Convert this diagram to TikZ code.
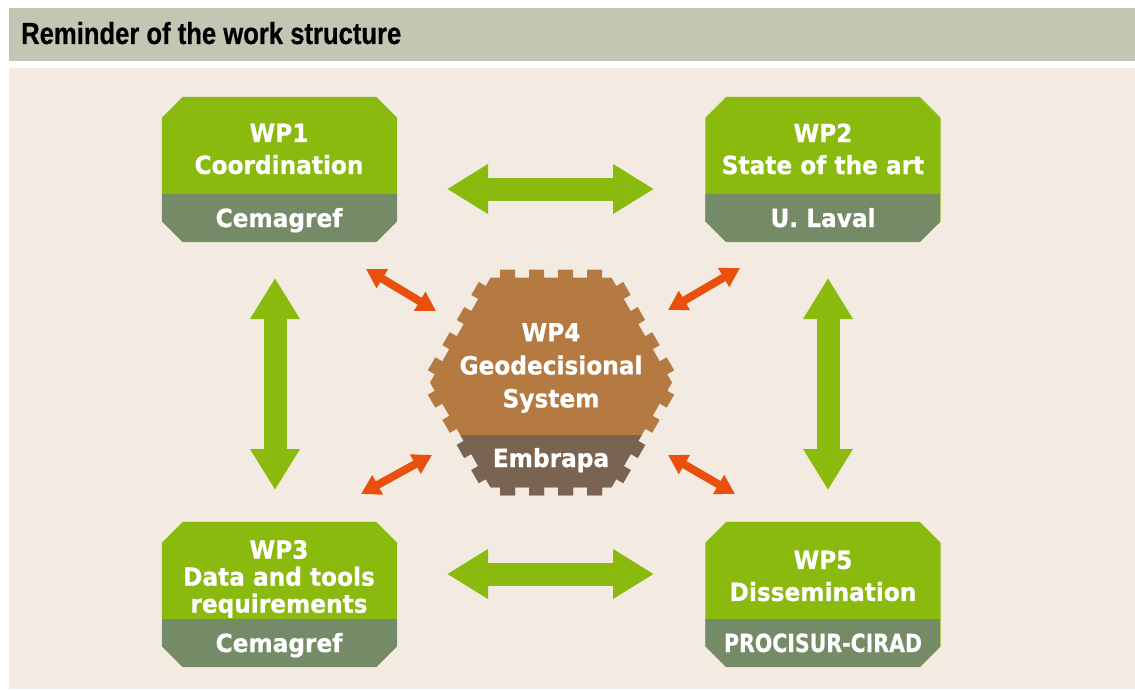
\documentclass[tikz,border=0pt]{standalone}
\usepackage{fontspec}
\usetikzlibrary{arrows.meta,calc}
\newfontfamily\wpfont[FakeStretch=0.93, BoldFeatures={FakeBold=0.6}]{DejaVu Sans}
\newfontfamily\condfont[FakeStretch=0.82, BoldFeatures={FakeBold=0.6}]{DejaVu Sans}
\newfontfamily\titlefont[FakeStretch=0.84, BoldFeatures={FakeBold=0.6}]{Liberation Sans}
\definecolor{panelbg}{HTML}{F3EBE2}
\definecolor{titlebg}{HTML}{C4C6B4}
\definecolor{wpgreen}{HTML}{8BBA0E}
\definecolor{wpband}{HTML}{758A67}
\definecolor{wpbrown}{HTML}{B47A42}
\definecolor{wpdark}{HTML}{7A6350}
\definecolor{wporange}{HTML}{E9500E}
\tikzset{
  boxframe/.style={rectangle, minimum width=235pt, minimum height=145pt, inner sep=0pt, draw=none},
  wptext/.style={text=white, align=center, inner sep=0pt, font=\wpfont\bfseries\fontsize{25}{32}\selectfont},
  wplabel/.style={text=white, inner sep=0pt, anchor=base, font=\wpfont\bfseries\fontsize{25}{30}\selectfont},
  greenarrow/.style={draw=wpgreen, line width=23pt, {Triangle[length=41pt,width=47pt]}-{Triangle[length=41pt,width=47pt]}},
  orangearrow/.style={draw=wporange, line width=8pt, {Triangle[length=19pt,width=21pt]}-{Triangle[length=19pt,width=21pt]}}
}
\newcommand\octpath[1]{($(#1.north west)+(21,0)$) -- ($(#1.north east)+(-21,0)$) -- ($(#1.north east)+(0,21)$) -- ($(#1.south east)+(0,-21)$) -- ($(#1.south east)+(-21,0)$) -- ($(#1.south west)+(21,0)$) -- ($(#1.south west)+(0,-21)$) -- ($(#1.north west)+(0,21)$) -- cycle}
\newcommand\wpbox[3]{%
  \node[boxframe] (#1) at (#2,#3) {};
  \fill[wpgreen] \octpath{#1};
  \begin{scope}
    \clip \octpath{#1};
    \fill[wpband] ($(#1.south west)+(0,-48)$) rectangle (#1.south east);
  \end{scope}
}
\newcommand\hexpath{($(hc)+(0:121)$)
  \foreach \a in {0,60,...,300}{
    \foreach \t in {-43.5,-14.5,14.5,43.5}{
      -- ($(hc)+(\a+30:104.8)+(\a+120:\t-7.5)$)
      -- ($(hc)+(\a+30:112.8)+(\a+120:\t-7.5)$)
      -- ($(hc)+(\a+30:112.8)+(\a+120:\t+7.5)$)
      -- ($(hc)+(\a+30:104.8)+(\a+120:\t+7.5)$)
    }
    -- ($(hc)+(\a+60:121)$)
  } -- cycle}
\begin{document}
\begin{tikzpicture}[x=1pt,y=-1pt]
\useasboundingbox (0,0) rectangle (1135,690);
\fill[white] (0,0) rectangle (1135,690);
\fill[titlebg] (9,8) rectangle (1135,61);
\fill[panelbg] (9,68) rectangle (1135,689);
\node[anchor=base west, inner sep=0pt, font=\titlefont\bfseries\fontsize{30.5}{34}\selectfont] (title) at (21,44) {Reminder of the work structure};

% boxes
\wpbox{wp1}{279.5}{169.5}
\wpbox{wp2}{823}{169.5}
\wpbox{wp3}{279.5}{594.5}
\wpbox{wp5}{823}{594.5}

% hexagon WP4
\coordinate (hc) at (551,382.5);
\fill[wpbrown] \hexpath;
\begin{scope}
  \clip (400,435.5) rectangle (700,520);
  \fill[wpdark] \hexpath;
\end{scope}

% texts
\node[wptext] (t1) at (279,149) {WP1\\Coordination};
\node[wplabel] (l1) at (279,227) {Cemagref};
\node[wptext] (t2) at (823,149) {WP2\\State of the art};
\node[wplabel] (l2) at (823,227) {U. Laval};
\node[wptext, font=\wpfont\bfseries\fontsize{25}{27}\selectfont] (t3) at (279,579) {WP3\\Data and tools\\requirements};
\node[wplabel] (l3) at (279,652) {Cemagref};
\node[wptext] (t5) at (823,576) {WP5\\Dissemination};
\node[wplabel, font=\condfont\bfseries\fontsize{25}{30}\selectfont] (l5) at (823,652) {PROCISUR-CIRAD};
\node[wptext, font=\wpfont\bfseries\fontsize{25}{33}\selectfont] (wp4) at (551,368) {WP4\\Geodecisional\\System};
\node[wplabel] (l4) at (551,467) {Embrapa};

% green arrows
\coordinate (g12a) at (447,189);
\coordinate (g12b) at (654,189);
\coordinate (g35a) at (447,574);
\coordinate (g35b) at (654,574);
\coordinate (g13a) at (275,278);
\coordinate (g13b) at (275,490);
\coordinate (g25a) at (828,278);
\coordinate (g25b) at (828,490);
\draw[greenarrow] (g12a) -- (g12b);
\draw[greenarrow] (g35a) -- (g35b);
\draw[greenarrow] (g13a) -- (g13b);
\draw[greenarrow] (g25a) -- (g25b);

% orange arrows
\coordinate (o1a) at (366,269);
\coordinate (o1b) at (436,311);
\coordinate (o2a) at (740,268);
\coordinate (o2b) at (668,310);
\coordinate (o3a) at (361,494);
\coordinate (o3b) at (432,455);
\coordinate (o5a) at (735,494);
\coordinate (o5b) at (668,455);
\draw[orangearrow] (o1a) -- (o1b);
\draw[orangearrow] (o2a) -- (o2b);
\draw[orangearrow] (o3a) -- (o3b);
\draw[orangearrow] (o5a) -- (o5b);
\end{tikzpicture}
\end{document}
